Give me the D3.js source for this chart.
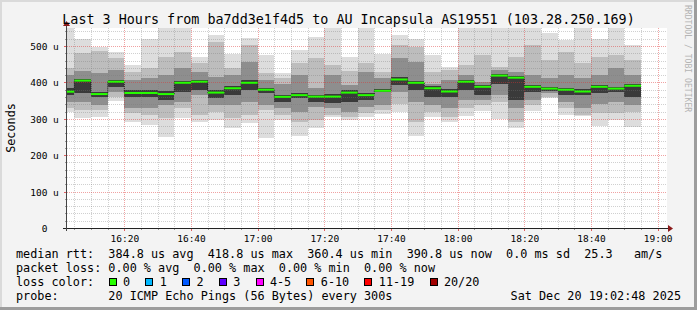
<!DOCTYPE html>
<html>
<head>
<meta charset="utf-8">
<script src="https://d3js.org/d3.v7.min.js"></script>
<style>
    html, body { margin: 0; padding: 0; background: #fff; }
    svg { display: block; }
    text { font-family: "DejaVu Sans Mono", monospace; fill: #000; white-space: pre; }
    .grid-minor { stroke: rgba(120,120,120,0.35); stroke-dasharray: 1,1; shape-rendering: crispEdges; }
    .grid-major { stroke: rgba(222,48,48,0.45); stroke-dasharray: 1,1; shape-rendering: crispEdges; }
</style>
</head>
<body>
<svg id="chart" width="697" height="310"></svg>
<script>
    // 5 minute steps (end time of each step)
    const stepEnds = ["16:05","16:10","16:15","16:20","16:25","16:30","16:35","16:40","16:45","16:50","16:55",
                      "17:00","17:05","17:10","17:15","17:20","17:25","17:30","17:35","17:40","17:45","17:50","17:55",
                      "18:00","18:05","18:10","18:15","18:20","18:25","18:30","18:35","18:40","18:45","18:50","18:55"];

    // median rtt (us)
    const median  = [374.5, 405, 368, 402, 371, 371, 368, 399, 402, 372, 384, 399, 380, 360.4, 365, 361, 361, 372,
                     365, 377, 408, 399, 384, 375, 402, 388, 418.8, 413, 388, 383, 380, 375, 388, 383, 390.8];

    // smoke: outer band (slowest / fastest ping)
    const outerHi = [560, 519, 498, 484, 448, 519, 560, 560, 471, 530, 477, 521, 475, 425, 489, 524, 560, 470,
                     560, 478, 530, 519, 476, 443, 560, 560, 560, 560, 560, 535, 516, 560, 520, 560, 503];
    const outerLo = [318, 301, 306, 349, 292, 283, 251, 303, 292, 297, 276, 288, 246, 297, 254, 274, 306, 297,
                     306, 312, 320, 254, 306, 292, 309, 322, 299, 274, 322, 356, 310, 309, 281, 297, 278];
    // second band
    const secondHi = [439, 480, 486, 466, 429, 439, 471, 484, 452, 512, 439, 503, 425, 411, 452, 466, 448, 430,
                      452, 429, 503, 498, 429, 434, 448, 475, 443, 471, 503, 462, 484, 452, 471, 475, 462];
    const secondLo = [329, 324, 324, 361, 315, 310, 301, 329, 310, 320, 301, 310, 324, 310, 292, 297, 310, 306,
                      315, 324, 342, 292, 320, 306, 329, 338, 347, 292, 338, 361, 329, 310, 315, 315, 320];
    // third band
    const thirdHi = [420, 430, 425, 434, 407, 411, 420, 439, 429, 416, 420, 457, 407, 397, 420, 384, 420, 393,
                     429, 411, 466, 457, 397, 407, 420, 402, 434, 429, 420, 411, 420, 411, 420, 439, 420];
    const thirdLo = [347, 347, 338, 375, 329, 329, 338, 347, 365, 338, 338, 347, 338, 329, 320, 333, 329, 320,
                     333, 338, 375, 347, 338, 329, 352, 352, 365, 329, 352, 370, 347, 329, 342, 347, 338];
    // dark core
    const coreHi = [384, 410, 375, 408, 378, 378, 376, 405, 408, 378, 390, 406, 386, 366, 371, 366, 367, 378,
                    371, 383, 414, 404, 390, 381, 408, 393, 423, 418, 394, 388, 386, 381, 394, 388, 396];
    const coreLo = [365, 370, 361, 388, 361, 361, 352, 375, 379, 356, 365, 379, 370, 345, 356, 347, 343, 347,
                    352, 375, 393, 379, 361, 361, 379, 365, 397, 352, 375, 376, 365, 365, 370, 375, 361];

    const yTicks = [0, 100, 200, 300, 400, 500];
    const lossLabels = ["0", "1", "2", "3", "4-5", "6-10", "11-19", "20/20"];
    const lossColors = ["#26ff00", "#00b8ff", "#0059ff", "#5e00ff", "#ff00ff", "#ff5500", "#ff0000", "#a10000"];

    const title = "Last 3 Hours from ba7dd3e1f4d5 to AU Incapsula AS19551 (103.28.250.169)";
    const legendLines = [
        "median rtt:  384.8 us avg  418.8 us max  360.4 us min  390.8 us now  0.0 ms sd  25.3   am/s",
        "packet loss: 0.00 % avg  0.00 % max  0.00 % min  0.00 % now",
        "loss color:",
        "probe:       20 ICMP Echo Pings (56 Bytes) every 300s"
    ];
    const stamp = "Sat Dec 20 19:02:48 2025";

    // ---- setup
    const W = 697, H = 310;
    const plot = {left: 67, right: 667, top: 28, bottom: 228};
    const day = "2025-12-20 ";
    const parseT = d3.timeParse("%Y-%m-%d %H:%M:%S");
    const tStart = parseT(day + "16:02:48"), tEnd = parseT(day + "19:02:48");

    const x = d3.scaleTime().domain([tStart, tEnd]).range([plot.left, plot.right]);
    const y = d3.scaleLinear().domain([0, 549.5]).range([plot.bottom, plot.top]);

    const svg = d3.select("#chart");

    // background + 3d frame
    svg.append("rect").attr("width", W).attr("height", H).attr("fill", "#f3f3f3");
    svg.append("path").attr("d", `M0,0H${W}V2H2V${H}H0Z`).attr("fill", "#dadada");
    svg.append("path").attr("d", `M${W},${H}H0V${H - 3}H${W - 3}V0H${W}Z`).attr("fill", "#9d9d9d");

    svg.append("rect")
        .attr("x", plot.left).attr("y", plot.top)
        .attr("width", plot.right - plot.left).attr("height", plot.bottom - plot.top)
        .attr("fill", "#fff");

    svg.append("clipPath").attr("id", "clip")
        .append("rect")
        .attr("x", plot.left).attr("y", plot.top)
        .attr("width", plot.right - plot.left).attr("height", plot.bottom - plot.top);

    const cols = stepEnds.map((s, i) => {
        const end = parseT(day + s + ":00");
        return {i, end, start: d3.timeMinute.offset(end, -5)};
    });

    // smoke
    const bands = [
        {hi: outerHi, lo: outerLo, color: "#dddddd"},
        {hi: secondHi, lo: secondLo, color: "#bdbdbd"},
        {hi: thirdHi, lo: thirdLo, color: "#8e8e8e"},
        {hi: coreHi, lo: coreLo, color: "#3a3a3a"}
    ];
    const smoke = svg.append("g").attr("clip-path", "url(#clip)");
    bands.forEach(b => {
        smoke.append("g").selectAll("rect")
            .data(cols)
            .join("rect")
            .attr("x", d => x(d.start))
            .attr("width", d => x(d.end) - x(d.start))
            .attr("y", d => y(b.hi[d.i]))
            .attr("height", d => y(b.lo[d.i]) - y(b.hi[d.i]))
            .attr("fill", b.color)
            .attr("shape-rendering", "crispEdges");
    });

    // grid (drawn over the smoke like rrdtool)
    const xMinor = d3.timeMinute.every(5).range(tStart, tEnd);
    const xMajor = d3.timeMinute.every(20).range(tStart, tEnd);
    const yMinor = d3.range(20, 549.5, 20).filter(v => v % 100 !== 0);
    const yMajor = yTicks.filter(v => v > 0);

    const grid = svg.append("g");
    grid.selectAll(".vx").data(xMinor.filter(t => t.getMinutes() % 20 !== 0)).join("line")
        .attr("class", "grid-minor")
        .attr("x1", d => Math.round(x(d)) + 0.5).attr("x2", d => Math.round(x(d)) + 0.5)
        .attr("y1", plot.top).attr("y2", plot.bottom);
    grid.selectAll(".hy").data(yMinor).join("line")
        .attr("class", "grid-minor")
        .attr("x1", plot.left).attr("x2", plot.right)
        .attr("y1", d => Math.round(y(d)) + 0.5).attr("y2", d => Math.round(y(d)) + 0.5);
    grid.append("g").selectAll("line").data(xMajor).join("line")
        .attr("class", "grid-major")
        .attr("x1", d => Math.round(x(d)) + 0.5).attr("x2", d => Math.round(x(d)) + 0.5)
        .attr("y1", plot.top).attr("y2", plot.bottom);
    grid.append("g").selectAll("line").data(yMajor).join("line")
        .attr("class", "grid-major")
        .attr("x1", plot.left).attr("x2", plot.right)
        .attr("y1", d => Math.round(y(d)) + 0.5).attr("y2", d => Math.round(y(d)) + 0.5);

    // median: thin step line + green (0 loss) segments
    const medPts = cols.flatMap(d => [[d.start, median[d.i]], [d.end, median[d.i]]]);
    const stepLine = d3.line().x(d => x(d[0])).y(d => y(d[1]));
    const med = svg.append("g").attr("clip-path", "url(#clip)");
    med.append("path")
        .attr("d", stepLine(medPts))
        .attr("fill", "none")
        .attr("stroke", "#202020")
        .attr("stroke-width", 1)
        .attr("stroke-dasharray", "1,1");
    med.selectAll(".m").data(cols).join("line")
        .attr("x1", d => x(d.start)).attr("x2", d => x(d.end))
        .attr("y1", d => y(median[d.i])).attr("y2", d => y(median[d.i]))
        .attr("stroke", lossColors[0])
        .attr("stroke-width", 2);

    // axes
    const xAxis = svg.append("g")
        .attr("transform", `translate(0,${plot.bottom})`)
        .call(d3.axisBottom(x).tickValues(xMajor).tickFormat(d3.timeFormat("%H:%M")).tickSize(0));
    xAxis.select(".domain").remove();
    xAxis.selectAll("text").attr("y", 13.5).attr("dy", null).style("font-size", "9.5px")
        .style("font-family", "'DejaVu Sans Mono', monospace");

    const yAxis = svg.append("g")
        .attr("transform", `translate(${plot.left},0)`)
        .call(d3.axisLeft(y).tickValues(yTicks).tickFormat(d => d === 0 ? "0" : d + " u").tickSize(0));
    yAxis.select(".domain").remove();
    yAxis.selectAll("text").attr("x", 44.5 - plot.left).attr("dy", "0.37em")
        .attr("text-anchor", "middle").style("font-size", "9.5px")
        .style("font-family", "'DejaVu Sans Mono', monospace");

    // tick marks
    const ticks = svg.append("g").attr("shape-rendering", "crispEdges");
    ticks.selectAll(".tx").data(xMinor).join("line")
        .attr("x1", d => Math.round(x(d)) + 0.5).attr("x2", d => Math.round(x(d)) + 0.5)
        .attr("y1", plot.bottom).attr("y2", d => plot.bottom + (d.getMinutes() % 20 === 0 ? 3 : 2))
        .attr("stroke", d => d.getMinutes() % 20 === 0 ? "#e06060" : "#999");
    ticks.selectAll(".ty").data(d3.range(20, 549.5, 20)).join("line")
        .attr("y1", d => Math.round(y(d)) + 0.5).attr("y2", d => Math.round(y(d)) + 0.5)
        .attr("x1", plot.left).attr("x2", d => plot.left - (d % 100 === 0 ? 3 : 2))
        .attr("stroke", d => d % 100 === 0 ? "#e06060" : "#999");

    // axis lines and arrows
    svg.append("line")
        .attr("x1", 63).attr("x2", plot.right + 2)
        .attr("y1", plot.bottom + 0.5).attr("y2", plot.bottom + 0.5)
        .attr("stroke", "#222").attr("shape-rendering", "crispEdges");
    svg.append("line")
        .attr("x1", plot.left - 0.5).attr("x2", plot.left - 0.5)
        .attr("y1", plot.bottom + 3).attr("y2", plot.top - 4)
        .attr("stroke", "#444").attr("shape-rendering", "crispEdges");
    svg.append("path")
        .attr("d", `M${plot.right + 1},${plot.bottom - 3}L${plot.right + 6},${plot.bottom + 0.5}L${plot.right + 1},${plot.bottom + 4}Z`)
        .attr("fill", "#8b1a1a");
    svg.append("path")
        .attr("d", `M${plot.left - 4},${plot.top - 2}L${plot.left - 0.5},${plot.top - 7}L${plot.left + 3},${plot.top - 2}Z`)
        .attr("fill", "#8b1a1a");

    // titles
    svg.append("text")
        .attr("x", W / 2).attr("y", 24)
        .attr("text-anchor", "middle")
        .style("font-size", "13.4px")
        .text(title);

    svg.append("text")
        .attr("transform", `translate(15,${(plot.top + plot.bottom) / 2}) rotate(-90)`)
        .attr("text-anchor", "middle")
        .style("font-size", "11.8px")
        .text("Seconds");

    svg.append("text")
        .attr("transform", "translate(685,5) rotate(90)")
        .style("font-size", "8.1px")
        .style("fill", "#b4b4b4")
        .text("RRDTOOL / TOBI OETIKER");

    // legend
    const legend = svg.append("g").style("font-size", "11.8px");
    legend.selectAll("text.l").data(legendLines).join("text")
        .attr("class", "l")
        .attr("xml:space", "preserve")
        .attr("x", 16)
        .attr("y", (d, i) => 258 + i * 14)
        .text(d => d);
    legend.append("text")
        .attr("x", 681).attr("y", 300)
        .attr("text-anchor", "end")
        .text(stamp);

    const cw = 7.1;
    let lx = 108.7;
    const lossItems = lossLabels.map((l, i) => {
        const item = {label: l, color: lossColors[i], x: lx};
        lx += 14.4 + l.length * cw + 15.2;
        return item;
    });
    const li = legend.selectAll("g.loss").data(lossItems).join("g").attr("class", "loss");
    li.append("rect")
        .attr("x", d => Math.round(d.x) + 0.5).attr("y", 278.5)
        .attr("width", 7).attr("height", 7)
        .attr("fill", d => d.color)
        .attr("stroke", "#000");
    li.append("text")
        .attr("x", d => d.x + 14.4).attr("y", 286)
        .text(d => d.label);
</script>
</body>
</html>
